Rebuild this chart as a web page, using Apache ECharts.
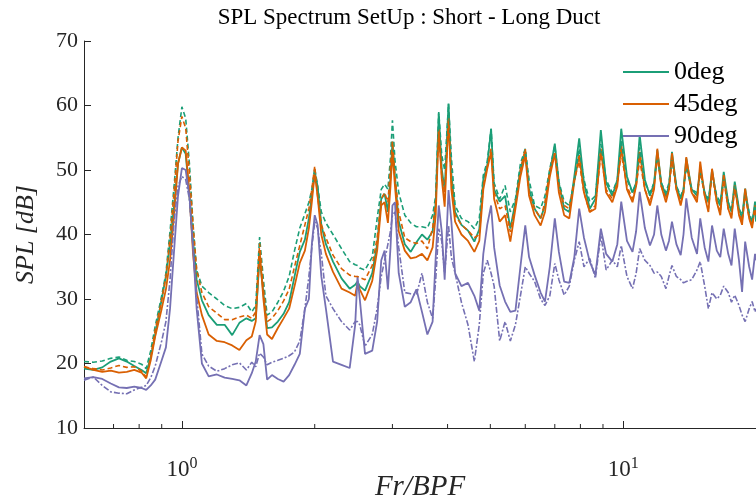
<!DOCTYPE html>
<html>
<head>
<meta charset="utf-8">
<script src="https://cdn.jsdelivr.net/npm/echarts@6/dist/echarts.min.js"></script>
<style>
  html, body { margin: 0; padding: 0; background: #fff; }
  #main { width: 756px; height: 503px; }
</style>
</head>
<body>
<div id="main"></div>
<script>
// frequency axis, Fr/BPF
var freq = [
    0.60, 0.63, 0.66, 0.69, 0.72, 0.75, 0.78, 0.81, 0.83, 0.85,
    0.87, 0.90, 0.92, 0.94, 0.96, 0.98, 1.00, 1.02, 1.04, 1.06,
    1.08, 1.11, 1.15, 1.20, 1.25, 1.30, 1.35, 1.40, 1.44, 1.47,
    1.50, 1.53, 1.56, 1.60, 1.65, 1.70, 1.75, 1.80, 1.85, 1.90,
    1.94, 1.97, 2.00, 2.03, 2.07, 2.12, 2.20, 2.30, 2.40, 2.47,
    2.50, 2.53, 2.60, 2.70, 2.77, 2.83, 2.88, 2.93, 2.97, 3.00,
    3.04, 3.10, 3.20, 3.30, 3.40, 3.50, 3.60, 3.70, 3.76, 3.82,
    3.88, 3.94, 4.02, 4.08, 4.16, 4.30, 4.45, 4.60, 4.72, 4.82,
    4.92, 5.02, 5.10, 5.25, 5.40, 5.55, 5.70, 5.85, 6.00, 6.12,
    6.30, 6.50, 6.65, 6.82, 7.00, 7.15, 7.35, 7.55, 7.75, 7.95,
    8.15, 8.40, 8.65, 8.90, 9.15, 9.45, 9.70, 9.90, 10.2, 10.5,
    10.7, 10.9, 11.2, 11.5, 11.75, 11.95, 12.2, 12.5, 12.7, 12.9,
    13.2, 13.5, 13.7, 13.9, 14.3, 14.7, 14.95, 15.3, 15.6, 15.9,
    16.3, 16.6, 16.9, 17.3, 17.6, 17.9, 18.3, 18.6, 18.9, 19.3,
    19.6, 19.9, 20.0
];

// solid lines
var spl0 = [
    19.2, 19.0, 19.4, 20.3, 20.8, 20.3, 19.6, 19.0, 18.5, 21.0,
    24.5, 30.0, 33.5, 38.5, 44.5, 51.0, 53.5, 52.5, 46.0, 39.0,
    33.0, 29.8, 27.5, 26.0, 26.0, 24.4, 26.3, 27.0, 26.6, 27.0,
    36.5, 31.0, 25.5, 25.6, 26.5, 27.7, 29.5, 33.5, 37.3, 39.2,
    42.5, 46.0, 49.7, 47.5, 41.5, 38.5, 35.8, 33.2, 31.6, 32.2,
    32.7, 32.0, 31.3, 34.0, 38.5, 45.5, 46.3, 43.5, 49.0, 54.4,
    49.0, 42.0, 38.5, 37.3, 38.8, 40.0, 39.2, 40.5, 45.0, 58.8,
    50.2, 46.8, 60.3, 49.5, 43.5, 41.5, 40.6, 38.9, 40.8, 48.5,
    50.7, 56.4, 47.0, 45.1, 46.0, 40.9, 45.1, 50.0, 52.8, 47.1,
    44.0, 42.5, 44.5, 49.5, 54.1, 48.0, 44.0, 43.5, 49.0, 54.9,
    48.0, 44.0, 45.5, 56.2, 48.0, 46.0, 48.5, 56.4, 49.0, 46.5,
    48.0, 55.4, 48.5, 46.0, 48.0, 53.1, 48.0, 46.0, 47.5, 52.8,
    47.5, 45.5, 47.0, 51.8, 47.0, 46.0, 50.2, 46.5, 45.0, 50.0,
    45.5, 44.5, 49.7, 45.0, 43.5, 48.2, 44.0, 42.5, 47.1, 43.0,
    41.5, 45.1, 42.0
];
var spl45 = [
    19.5, 19.0, 18.7, 18.9, 18.6, 18.7, 19.0, 18.6, 17.7, 20.5,
    24.2, 28.5, 31.5, 36.0, 43.0, 51.0, 53.5, 53.0, 46.5, 37.0,
    31.0, 27.5, 24.5, 23.5, 23.3, 22.8, 22.1, 23.6, 24.2, 26.5,
    37.5, 30.0, 24.5, 23.8, 25.5, 27.0, 28.5, 32.0, 35.6, 37.5,
    41.0, 45.0, 49.5, 46.0, 40.0, 37.0, 34.2, 31.6, 31.0, 30.5,
    32.5, 31.5, 29.8, 32.8, 37.5, 44.5, 45.0, 41.8, 47.5, 52.8,
    47.5, 40.5, 37.5, 36.3, 36.5, 37.0, 36.0, 38.0, 43.0, 56.4,
    48.7, 44.3, 58.0, 47.0, 42.0, 40.0, 39.0, 37.3, 39.0, 47.0,
    50.2, 52.8, 45.5, 42.0, 43.0, 38.9, 44.0, 49.0, 52.3, 46.0,
    43.0, 41.4, 43.5, 49.0, 52.6, 46.5, 43.0, 42.5, 48.2, 52.3,
    46.5, 43.5, 44.0, 53.3, 46.5, 45.0, 47.5, 53.8, 47.0, 45.0,
    47.5, 52.8, 47.0, 44.5, 47.0, 53.3, 47.5, 45.0, 47.0, 52.6,
    47.0, 44.5, 46.5, 52.0, 46.5, 45.0, 51.3, 46.0, 43.5, 50.2,
    45.0, 43.0, 49.2, 44.0, 42.5, 47.6, 43.0, 41.5, 47.1, 42.5,
    41.0, 44.5, 43.0
];
var spl90 = [
    17.7, 17.9, 17.6, 16.9, 16.3, 16.2, 16.4, 16.2, 15.9, 16.6,
    17.5, 20.5, 22.5, 28.5, 37.5, 46.0, 50.3, 50.0, 46.0, 38.0,
    28.5, 20.0, 18.0, 18.3, 17.8, 17.6, 17.4, 16.6, 18.5, 20.3,
    24.4, 23.0, 17.5, 18.2, 17.6, 17.2, 18.2, 19.8, 21.5, 28.5,
    30.0, 38.5, 43.0, 41.5, 33.5, 28.5, 20.3, 19.8, 19.3, 26.0,
    33.5, 30.0, 21.5, 22.0, 26.5, 36.0, 37.5, 31.5, 38.0, 44.5,
    45.0, 34.0, 28.8, 29.5, 31.5, 28.0, 24.5, 26.5, 36.5, 44.5,
    40.5, 33.0, 46.9, 42.0, 34.0, 32.0, 32.5, 30.5, 28.2, 37.0,
    41.5, 44.5, 38.0, 32.1, 29.6, 28.0, 28.2, 35.0, 41.4, 36.5,
    33.7, 31.0, 29.6, 35.0, 42.5, 37.3, 32.7, 32.5, 36.5, 44.0,
    39.5, 35.8, 33.7, 40.9, 37.0, 35.8, 38.5, 45.1, 39.0, 37.3,
    40.5, 46.6, 41.0, 38.3, 40.0, 44.5, 40.0, 37.5, 39.0, 42.0,
    38.5, 36.8, 40.0, 45.6, 39.5, 37.0, 42.5, 38.0, 35.8, 41.4,
    37.5, 36.5, 40.9, 37.0, 35.2, 40.9, 36.0, 31.1, 38.9, 35.0,
    33.0, 37.0, 36.0
];

// dashed lines
var spl0b = [
    20.3, 20.2, 20.4, 20.8, 21.0, 20.5, 20.3, 19.9, 19.2, 22.0,
    25.8, 30.5, 34.0, 40.5, 47.5, 55.0, 59.8, 58.0, 51.0, 41.5,
    34.5, 32.0, 31.0, 30.0, 29.0, 28.5, 28.7, 29.3, 28.0, 29.0,
    39.6, 33.0, 27.5, 28.0, 29.5, 31.2, 33.5, 37.5, 41.0, 43.2,
    45.0, 47.0, 50.3, 47.5, 43.5, 41.8, 40.0, 37.8, 35.8, 35.3,
    35.2, 34.8, 34.5, 36.5, 42.5, 47.0, 47.8, 47.0, 52.0, 57.7,
    51.5, 46.5, 43.0, 41.8, 41.2, 41.2, 41.0, 43.0, 46.0, 59.0,
    52.3, 50.0, 60.2, 52.0, 44.5, 42.5, 42.0, 40.9, 42.5, 49.2,
    51.3, 56.4, 48.0, 45.5, 47.6, 43.5, 45.5, 51.0, 53.3, 48.5,
    44.5, 44.0, 46.0, 50.2, 53.8, 48.2, 45.1, 44.5, 48.2, 53.3,
    48.5, 45.1, 46.0, 54.0, 48.5, 46.5, 48.5, 54.5, 48.5, 46.5,
    48.0, 53.5, 48.0, 46.5, 48.0, 52.0, 48.0, 46.5, 48.0, 51.5,
    47.5, 46.0, 47.0, 50.5, 47.0, 46.5, 49.5, 46.5, 45.5, 49.0,
    46.0, 45.0, 48.5, 45.0, 44.0, 47.5, 44.0, 43.0, 46.0, 43.5,
    42.0, 44.5, 42.5
];
var spl45b = [
    19.5, 19.2, 19.0, 19.3, 19.7, 19.4, 19.5, 18.8, 17.9, 21.0,
    25.2, 29.8, 33.5, 39.5, 46.5, 54.5, 58.3, 56.5, 49.5, 41.5,
    34.5, 31.0, 28.8, 27.8, 26.8, 26.8, 27.2, 27.5, 27.0, 28.0,
    38.6, 31.5, 26.5, 27.0, 28.2, 29.7, 31.5, 35.0, 38.3, 41.5,
    44.0, 47.0, 50.6, 46.0, 41.5, 39.5, 36.8, 34.7, 33.7, 33.5,
    33.5, 33.3, 33.0, 35.2, 39.5, 45.5, 46.5, 45.0, 50.5, 54.4,
    49.0, 43.5, 39.5, 38.9, 38.6, 39.0, 37.8, 41.0, 45.0, 55.9,
    49.2, 46.5, 57.5, 48.5, 43.0, 41.5, 40.6, 39.5, 40.0, 47.5,
    50.5, 53.3, 46.5, 44.0, 44.5, 40.4, 44.5, 50.0, 53.3, 46.5,
    44.0, 42.5, 45.0, 50.0, 52.6, 47.5, 44.5, 44.0, 48.5, 51.3,
    46.5, 43.5, 44.5, 52.5, 47.0, 45.5, 48.0, 52.5, 47.5, 45.5,
    47.5, 51.5, 47.0, 45.0, 47.5, 52.0, 47.5, 45.5, 47.0, 51.5,
    47.0, 45.0, 46.5, 51.0, 46.5, 45.5, 50.0, 46.0, 44.0, 49.5,
    45.0, 43.5, 48.5, 44.0, 43.0, 47.0, 43.5, 42.0, 46.0, 42.5,
    41.5, 44.0, 43.0
];
var spl90b = [
    17.4, 17.9, 16.6, 15.6, 15.4, 15.3, 15.9, 16.3, 16.6, 17.8,
    19.6, 23.5, 26.5, 33.0, 42.0, 47.5, 49.0, 48.5, 45.5, 38.0,
    30.5, 21.5, 19.6, 18.8, 19.2, 19.8, 20.1, 19.0, 20.2, 19.5,
    21.6, 21.0, 19.8, 20.2, 20.5, 20.8, 21.2, 21.8, 23.5, 28.5,
    33.5, 38.0, 42.0, 41.0, 37.0, 30.5, 28.5, 26.5, 25.2, 26.5,
    26.5, 26.0, 22.7, 24.5, 28.5, 33.5, 36.0, 38.5, 40.5, 43.0,
    43.5, 38.0, 31.0, 30.8, 30.6, 34.0, 29.5, 27.0, 33.0, 40.9,
    39.0, 34.0, 41.4, 36.5, 34.0, 29.5, 26.0, 20.3, 26.0, 34.0,
    36.0, 34.0, 32.0, 23.5, 26.5, 23.5, 26.0, 30.5, 35.0, 34.0,
    32.7, 30.0, 29.0, 30.5, 35.5, 33.0, 30.6, 32.0, 36.0, 38.9,
    35.0, 36.3, 33.2, 39.9, 34.5, 36.0, 35.0, 38.3, 33.5, 31.6,
    34.0, 37.8, 36.0, 35.2, 34.0, 34.2, 33.5, 31.6, 33.5, 35.2,
    33.5, 33.0, 32.5, 32.7, 33.0, 34.5, 35.8, 32.0, 28.5, 31.0,
    30.0, 30.6, 32.0, 31.0, 29.5, 30.6, 29.0, 27.5, 26.5, 28.5,
    29.6, 28.0, 28.5
];

// small ticks on the log axis
var minorTicks = [0.7, 0.8, 0.9, 2, 3, 4, 5, 6, 7, 8, 9];

var cGreen = '#1b9e77';
var cOrange = '#d95f02';
var cPurple = '#7570b3';
var serif = 'Liberation Serif';

function pairs(ys) {
    var out = [];
    for (var i = 0; i < freq.length; i++) {
        out.push([freq[i], ys[i]]);
    }
    return out;
}

function lineSeries(name, ys, color, dash) {
    return {
        name: name,
        type: 'line',
        data: pairs(ys),
        symbol: 'none',
        showSymbol: false,
        lineStyle: { color: color, width: dash ? 1.6 : 1.8, type: dash || 'solid' },
        itemStyle: { color: color },
        emphasis: { disabled: true }
    };
}

var oChart = echarts.init(document.getElementById('main'));

var chartopt = {
    animation: false,
    title: {
        text: 'SPL Spectrum SetUp : Short - Long Duct',
        left: 404,
        textAlign: 'center',
        top: 1,
        textStyle: { fontFamily: serif, fontSize: 23, fontWeight: 'normal', color: '#000' }
    },
    legend: {
        data: ['0deg', '45deg', '90deg'],
        orient: 'vertical',
        left: 623,
        top: 56,
        padding: 0,
        icon: 'rect',
        itemWidth: 46,
        itemHeight: 2,
        itemGap: 0,
        textStyle: { fontFamily: serif, fontSize: 26, color: '#000', lineHeight: 32 }
    },
    grid: {
        left: 84,
        right: 0,
        top: 41,
        bottom: 75,
        outerBoundsMode: 'none'
    },
    xAxis: {
        type: 'log',
        logBase: 10,
        min: 0.6,
        max: 20,
        name: 'Fr/BPF',
        nameLocation: 'middle',
        nameGap: 45,
        nameMoveOverlap: false,
        nameTextStyle: { fontFamily: serif, fontStyle: 'italic', fontSize: 29, color: '#262626' },
        axisLine: { lineStyle: { color: '#262626', width: 1 } },
        axisTick: { inside: true, length: 7, lineStyle: { color: '#262626' } },
        splitLine: { show: false },
        axisLabel: {
            margin: 28,
            formatter: function (v) {
                var e = Math.log10(v);
                if (Math.abs(e - Math.round(e)) > 1e-6) return '';
                return '{b|10}{s|' + Math.round(e) + '}';
            },
            rich: {
                b: { fontFamily: serif, fontSize: 23, color: '#262626' },
                s: { fontFamily: serif, fontSize: 16, color: '#262626', verticalAlign: 'top', padding: [0, 0, 12, 0] }
            }
        }
    },
    yAxis: {
        type: 'value',
        min: 10,
        max: 70,
        interval: 10,
        name: 'SPL [dB]',
        nameLocation: 'middle',
        nameGap: 45,
        nameMoveOverlap: false,
        nameTextStyle: { fontFamily: serif, fontStyle: 'italic', fontSize: 26, color: '#262626' },
        axisLine: { show: true, lineStyle: { color: '#262626', width: 1 } },
        axisTick: { show: true, inside: true, length: 7, lineStyle: { color: '#262626' } },
        splitLine: { show: false },
        axisLabel: { margin: 6, fontFamily: serif, fontSize: 22, color: '#262626' }
    },
    series: [
        lineSeries('0deg', spl0, cGreen),
        lineSeries('45deg', spl45, cOrange),
        lineSeries('90deg', spl90, cPurple),
        lineSeries('0deg b', spl0b, cGreen, [5, 3]),
        lineSeries('45deg b', spl45b, cOrange, [5, 3]),
        lineSeries('90deg b', spl90b, cPurple, [6, 2, 2, 2]),
        {
            type: 'custom',
            silent: true,
            z: 5,
            data: minorTicks.map(function (v) { return [v, 10]; }),
            renderItem: function (params, api) {
                var p = api.coord([api.value(0), api.value(1)]);
                return {
                    type: 'line',
                    shape: { x1: p[0], y1: p[1], x2: p[0], y2: p[1] - 4 },
                    style: { stroke: '#262626', lineWidth: 1 }
                };
            }
        }
    ]
};

oChart.setOption(chartopt);
</script>
</body>
</html>
